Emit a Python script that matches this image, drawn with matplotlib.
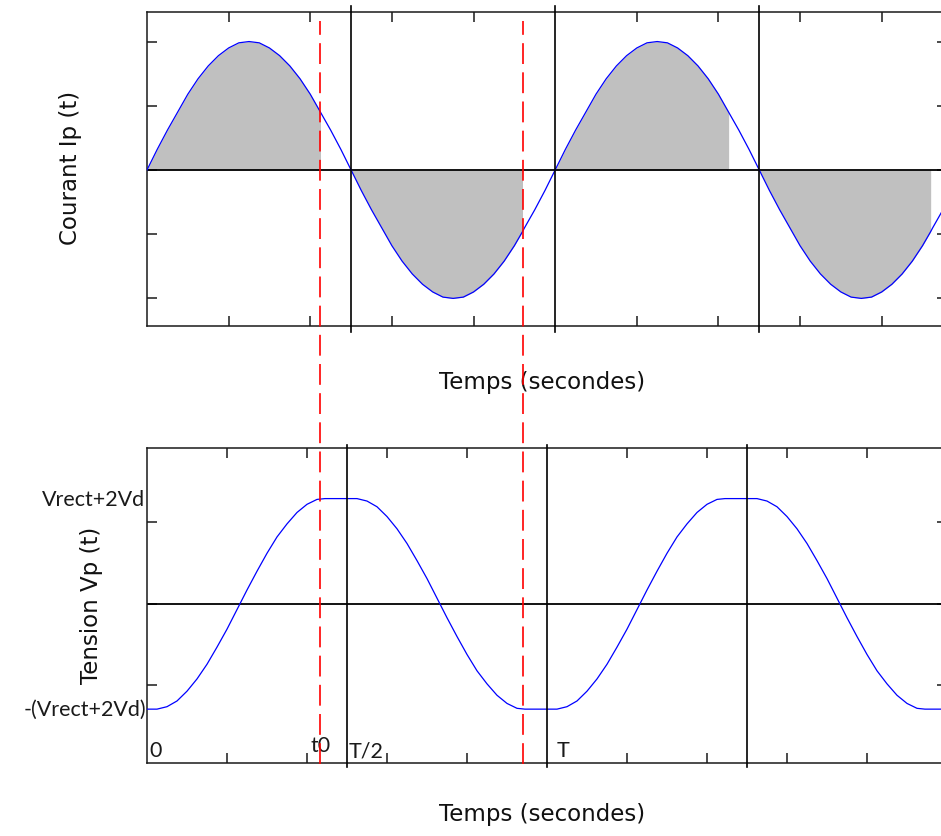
import matplotlib
matplotlib.use('Agg')
import matplotlib.pyplot as plt
import matplotlib.transforms as mtransforms
from matplotlib.lines import Line2D

# Courant primaire Ip(t), une période = 1
t_courant = [0.0, 0.025, 0.05, 0.075, 0.10, 0.125, 0.15, 0.175, 0.20, 0.225, 0.25,
             0.275, 0.30, 0.325, 0.35, 0.375, 0.40, 0.425, 0.45, 0.475,
             0.50, 0.525, 0.55, 0.575, 0.60, 0.625, 0.65, 0.675, 0.70, 0.725, 0.75,
             0.775, 0.80, 0.825, 0.85, 0.875, 0.90, 0.92, 0.925, 0.95, 0.975,
             1.00, 1.025, 1.05, 1.075, 1.10, 1.125, 1.15, 1.175, 1.20, 1.225, 1.25,
             1.275, 1.30, 1.325, 1.35, 1.375, 1.40, 1.425, 1.45, 1.475,
             1.50, 1.525, 1.55, 1.575, 1.60, 1.625, 1.65, 1.675, 1.70, 1.725, 1.75,
             1.775, 1.80, 1.825, 1.85, 1.875, 1.90, 1.92, 1.925, 1.95, 1.975, 2.00]
courant = [0.0, 0.16, 0.31, 0.45, 0.59, 0.71, 0.81, 0.89, 0.95, 0.99, 1.00,
           0.99, 0.95, 0.89, 0.81, 0.71, 0.59, 0.45, 0.31, 0.16,
           0.0, -0.16, -0.31, -0.45, -0.59, -0.71, -0.81, -0.89, -0.95, -0.99, -1.00,
           -0.99, -0.95, -0.89, -0.81, -0.71, -0.59, -0.48, -0.45, -0.31, -0.16,
           0.0, 0.16, 0.31, 0.45, 0.59, 0.71, 0.81, 0.89, 0.95, 0.99, 1.00,
           0.99, 0.95, 0.89, 0.81, 0.71, 0.59, 0.45, 0.31, 0.16,
           0.0, -0.16, -0.31, -0.45, -0.59, -0.71, -0.81, -0.89, -0.95, -0.99, -1.00,
           -0.99, -0.95, -0.89, -0.81, -0.71, -0.59, -0.48, -0.45, -0.31, -0.16, 0.0]

# zones grisées (conduction des diodes)
zone_debut = [0.0, 0.5, 1.0, 1.5]
zone_fin = [0.425, 0.92, 1.425, 1.92]

# instants t0 et T/2 + t0 (lignes rouges)
t_rouges = [0.425, 0.92]

# Tension primaire Vp(t)
t_tension = [0.0, 0.02, 0.025, 0.05, 0.075, 0.10, 0.125, 0.15, 0.175, 0.20, 0.225,
             0.25, 0.275, 0.30, 0.325, 0.35, 0.375, 0.40, 0.425, 0.445,
             0.52, 0.525, 0.55, 0.575, 0.60, 0.625, 0.65, 0.675, 0.70, 0.725,
             0.75, 0.775, 0.80, 0.825, 0.85, 0.875, 0.90, 0.925, 0.945,
             1.02, 1.025, 1.05, 1.075, 1.10, 1.125, 1.15, 1.175, 1.20, 1.225,
             1.25, 1.275, 1.30, 1.325, 1.35, 1.375, 1.40, 1.425, 1.445,
             1.52, 1.525, 1.55, 1.575, 1.60, 1.625, 1.65, 1.675, 1.70, 1.725,
             1.75, 1.775, 1.80, 1.825, 1.85, 1.875, 1.90, 1.925, 1.945, 2.00]
tension = [-1.29, -1.29, -1.29, -1.26, -1.19, -1.07, -0.92, -0.74, -0.53, -0.31, -0.07,
           0.17, 0.40, 0.62, 0.82, 0.98, 1.12, 1.22, 1.28, 1.29,
           1.29, 1.29, 1.26, 1.19, 1.07, 0.92, 0.74, 0.53, 0.31, 0.07,
           -0.17, -0.40, -0.62, -0.82, -0.98, -1.12, -1.22, -1.28, -1.29,
           -1.29, -1.29, -1.26, -1.19, -1.07, -0.92, -0.74, -0.53, -0.31, -0.07,
           0.17, 0.40, 0.62, 0.82, 0.98, 1.12, 1.22, 1.28, 1.29,
           1.29, 1.29, 1.26, 1.19, 1.07, 0.92, 0.74, 0.53, 0.31, 0.07,
           -0.17, -0.40, -0.62, -0.82, -0.98, -1.12, -1.22, -1.28, -1.29, -1.29]
v_max = 1.29

W, H = 941, 837
fig = plt.figure(figsize=(W / 100, H / 100), dpi=100)
ax1 = fig.add_axes([147 / W, (H - 327) / H, 800 / W, 314 / H])
ax2 = fig.add_axes([147 / W, (H - 764) / H, 800 / W, 315 / H])

label_font = dict(family='DejaVu Sans', size=16.5, color='#111111')
mark_font = dict(family='Lato', size=15.5, color='#1a1a1a')

for ax in (ax1, ax2):
    for s in ax.spines.values():
        s.set_linewidth(1.1)
        s.set_color('#1a1a1a')
    ax.tick_params(direction='in', length=7, width=1.1, color='#1a1a1a',
                   top=True, right=True, labelleft=False, labelbottom=False)

# --- courant ---
for a, b in zip(zone_debut, zone_fin):
    pts = [(t, i) for t, i in zip(t_courant, courant) if a <= t <= b]
    ax1.fill_between([p[0] for p in pts], [p[1] for p in pts], 0,
                     color='#c0c0c0', lw=0, zorder=1)
ax1.axhline(0, color='black', lw=1.3, zorder=2)
ax1.plot(t_courant, courant, color='#0000ff', lw=0.9, zorder=3)
for x in (0.5, 1.0, 1.5):
    ax1.axvline(x, ymin=-0.02, ymax=1.02, color='black', lw=1.2, clip_on=False, zorder=4)
ax1.set_xlim(0, 1.96)
ax1.set_ylim(-1.215, 1.23)
ax1.set_xticks([0.2, 0.4, 0.6, 0.8, 1.2, 1.4, 1.6, 1.8])
ax1.set_yticks([-1, -0.5, 0, 0.5, 1])
ax1.set_xlabel('Temps (secondes)', **label_font)
ax1.xaxis.set_label_coords(0.494, -0.14)
ax1.set_ylabel('Courant Ip (t)', **label_font)
ax1.yaxis.set_label_coords(-0.081, 0.505)

# --- tension ---
ax2.axhline(0, color='black', lw=1.3, zorder=2)
ax2.plot(t_tension, tension, color='#0000ff', lw=0.9, zorder=3)
for x in (0.5, 1.0, 1.5):
    ax2.axvline(x, ymin=-0.013, ymax=1.01, color='black', lw=1.2, clip_on=False, zorder=4)
ax2.set_xlim(0, 2.0)
ax2.set_ylim(-1.95, 1.91)
ax2.set_xticks([0.2, 0.4, 0.6, 0.8, 1.2, 1.4, 1.6, 1.8])
ax2.set_yticks([-1, 0, 1])
ax2.set_xlabel('Temps (secondes)', **label_font)
ax2.xaxis.set_label_coords(0.494, -0.124)
ax2.set_ylabel('Tension Vp (t)', **label_font)
ax2.yaxis.set_label_coords(-0.055, 0.505)

ytrans = mtransforms.blended_transform_factory(ax2.transAxes, ax2.transData)
ax2.text(-0.003, v_max, 'Vrect+2Vd', ha='right', va='center', transform=ytrans, **mark_font)
ax2.text(-0.001, -v_max, '-(Vrect+2Vd)', ha='right', va='center', transform=ytrans, **mark_font)

xtrans = mtransforms.blended_transform_factory(ax2.transData, ax2.transAxes)
ax2.annotate('0', (0, 0.022), xycoords=xtrans, xytext=(2, 0), textcoords='offset points',
             ha='left', va='baseline', **mark_font)
ax2.annotate('T/2', (0.5, 0.022), xycoords=xtrans, xytext=(1.5, 0), textcoords='offset points',
             ha='left', va='baseline', **mark_font)
ax2.annotate('T', (1.0, 0.022), xycoords=xtrans, xytext=(7, 0), textcoords='offset points',
             ha='left', va='baseline', **mark_font)
t0trans = mtransforms.blended_transform_factory(ax1.transData, ax2.transAxes)
ax2.text(t_rouges[0], 0.038, 't0', ha='center', va='baseline', transform=t0trans, **mark_font)

# lignes rouges traversant les deux graphes
redtrans = mtransforms.blended_transform_factory(ax1.transData, fig.transFigure)
for x in t_rouges:
    fig.add_artist(Line2D([x, x], [(H - 765) / H, (H - 22) / H], transform=redtrans,
                          color='#ff0000', lw=1.2, dashes=(12.5, 5), zorder=5))

fig.savefig('out.png', dpi=100)
